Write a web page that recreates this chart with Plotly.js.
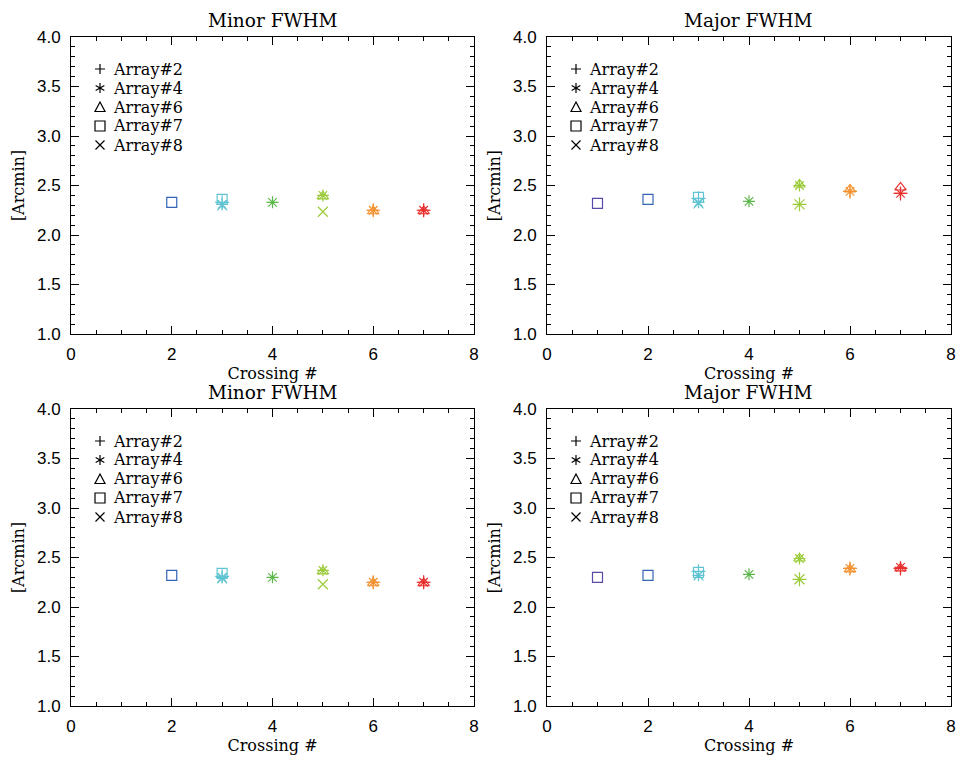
<!DOCTYPE html>
<html>
<head>
<meta charset="utf-8">
<script src="https://cdn.plot.ly/plotly-3.0.1.min.js"></script>
<style>html,body{margin:0;padding:0;background:#fff;}#chart{width:957px;height:760px;}</style>
</head>
<body>
<div id="chart"></div>
<script>
// ---- data ----
const crossings = [1, 2, 3, 4, 5, 6, 7];
const crossingColors = ['#5a4aa8', '#3464b4', '#62c4d2', '#5cb84a', '#9ccb3a', '#f39130', '#e8302e'];
const arrayNames = ['Array#2', 'Array#4', 'Array#6', 'Array#7', 'Array#8'];
const arraySymbols = ['cross-thin-open', 'asterisk-open', 'triangle-up-open', 'square-open', 'x-thin-open'];
const panelTitles = ['Minor FWHM', 'Major FWHM', 'Minor FWHM', 'Major FWHM'];
const xTitle = 'Crossing #';
const yTitle = '[Arcmin]';

// panel 1: top-left, Minor FWHM
const p1_array2 = [null, null, 2.33, null, null, 2.25, 2.25];
const p1_array4 = [null, null, 2.31, 2.33, 2.40, 2.25, 2.25];
const p1_array6 = [null, null, null, null, 2.39, 2.24, 2.24];
const p1_array7 = [null, 2.33, 2.36, null, null, null, null];
const p1_array8 = [null, null, 2.30, null, 2.235, null, null];
// panel 2: top-right, Major FWHM
const p2_array2 = [null, null, 2.37, null, 2.31, 2.44, 2.42];
const p2_array4 = [null, null, 2.33, 2.34, 2.50, 2.44, 2.42];
const p2_array6 = [null, null, null, null, 2.51, 2.46, 2.48];
const p2_array7 = [2.32, 2.36, 2.38, null, null, null, null];
const p2_array8 = [null, null, 2.32, null, 2.31, null, null];
// panel 3: bottom-left, Minor FWHM
const p3_array2 = [null, null, 2.31, null, null, 2.25, 2.25];
const p3_array4 = [null, null, 2.30, 2.30, 2.37, 2.25, 2.25];
const p3_array6 = [null, null, null, null, 2.36, 2.24, 2.24];
const p3_array7 = [null, 2.32, 2.34, null, null, null, null];
const p3_array8 = [null, null, 2.29, null, 2.23, null, null];
// panel 4: bottom-right, Major FWHM
const p4_array2 = [null, null, 2.36, null, 2.28, 2.39, 2.39];
const p4_array4 = [null, null, 2.32, 2.33, 2.49, 2.39, 2.40];
const p4_array6 = [null, null, null, null, 2.49, 2.38, 2.39];
const p4_array7 = [2.30, 2.32, 2.35, null, null, null, null];
const p4_array8 = [null, null, 2.32, null, 2.28, null, null];

const xTickVals = [0, 2, 4, 6, 8];
const yTickVals = [1.0, 1.5, 2.0, 2.5, 3.0, 3.5, 4.0];

const panels = [
  [p1_array2, p1_array4, p1_array6, p1_array7, p1_array8],
  [p2_array2, p2_array4, p2_array6, p2_array7, p2_array8],
  [p3_array2, p3_array4, p3_array6, p3_array7, p3_array8],
  [p4_array2, p4_array4, p4_array6, p4_array7, p4_array8]
];

// ---- layout geometry ----
const W = 957, H = 760;
const xDomains = [[71 / W, 474 / W], [547 / W, 951 / W]];
const yDomains = [[1 - 334 / H, 1 - 37 / H], [1 - 706 / H, 1 - 409 / H]];
const serif = 'DejaVu Serif, serif';
const sans = 'Liberation Sans, Arial, sans-serif';

// legend key glyphs as small vector paths (pixel -> paper)
function pt(px, py) { return (px / W).toFixed(5) + ',' + (1 - py / H).toFixed(5); }
function glyphPath(kind, cx, cy) {
  const s = 5;
  if (kind === 0) return 'M' + pt(cx - s, cy) + 'L' + pt(cx + s, cy) + 'M' + pt(cx, cy - s) + 'L' + pt(cx, cy + s);
  if (kind === 1) {
    const dx = s * Math.cos(Math.PI / 6), dy = s * Math.sin(Math.PI / 6);
    return 'M' + pt(cx, cy - s) + 'L' + pt(cx, cy + s) +
           'M' + pt(cx - dx, cy - dy) + 'L' + pt(cx + dx, cy + dy) +
           'M' + pt(cx - dx, cy + dy) + 'L' + pt(cx + dx, cy - dy);
  }
  if (kind === 2) return 'M' + pt(cx - s, cy + 4.5) + 'L' + pt(cx + s, cy + 4.5) + 'L' + pt(cx, cy - 5) + 'Z';
  if (kind === 3) return 'M' + pt(cx - 5, cy - 5) + 'L' + pt(cx + 5, cy - 5) + 'L' + pt(cx + 5, cy + 5) + 'L' + pt(cx - 5, cy + 5) + 'Z';
  const d = 4.5;
  return 'M' + pt(cx - d, cy - d) + 'L' + pt(cx + d, cy + d) + 'M' + pt(cx - d, cy + d) + 'L' + pt(cx + d, cy - d);
}

const traces = [];
const layout = {
  width: W, height: H,
  margin: {l: 0, r: 0, t: 0, b: 0},
  paper_bgcolor: '#fff', plot_bgcolor: '#fff',
  showlegend: false,
  annotations: [],
  shapes: []
};

panels.forEach((series, p) => {
  const col = p % 2, row = Math.floor(p / 2);
  const sfx = p === 0 ? '' : String(p + 1);
  const xa = 'x' + sfx, ya = 'y' + sfx;
  series.forEach((vals, a) => {
    traces.push({
      type: 'scatter', mode: 'markers', xaxis: xa, yaxis: ya,
      x: crossings, y: vals, name: arrayNames[a], showlegend: false,
      marker: {symbol: arraySymbols[a], size: 10, color: crossingColors,
               line: {width: 1.2, color: crossingColors}},
      hoverinfo: 'x+y+name'
    });
  });
  layout['xaxis' + sfx] = {
    domain: xDomains[col], anchor: ya, range: [0, 8],
    tickvals: xTickVals, ticks: 'inside', ticklen: 8, tickwidth: 1, tickcolor: '#000',
    minor: {dtick: 0.5, ticks: 'inside', ticklen: 4, tickcolor: '#000', showgrid: false},
    mirror: 'ticks', showline: true, linecolor: '#000', linewidth: 1,
    showgrid: false, zeroline: false, ticklabelstandoff: 5,
    tickfont: {family: sans, size: 17, color: '#000'},
    title: {text: xTitle, font: {family: serif, size: 16, color: '#000'}, standoff: 3}
  };
  layout['yaxis' + sfx] = {
    domain: yDomains[row], anchor: xa, range: [1, 4],
    tickvals: yTickVals, tickformat: '.1f', ticks: 'inside', ticklen: 8, tickwidth: 1, tickcolor: '#000',
    minor: {dtick: 0.1, ticks: 'inside', ticklen: 4, tickcolor: '#000', showgrid: false},
    mirror: 'ticks', showline: true, linecolor: '#000', linewidth: 1,
    showgrid: false, zeroline: false, ticklabelstandoff: 6,
    tickfont: {family: sans, size: 17, color: '#000'},
    title: {text: yTitle, font: {family: serif, size: 16, color: '#000'}, standoff: 8}
  };
  // legend: key glyph + name
  const x0 = xDomains[col][0] * W, yTop = (1 - yDomains[row][1]) * H;
  arrayNames.forEach((nm, a) => {
    const yc = yTop + 32 + a * 19;
    layout.shapes.push({
      type: 'path', xref: 'paper', yref: 'paper', path: glyphPath(a, x0 + 29, yc),
      line: {color: '#000', width: 1.2}, fillcolor: 'rgba(0,0,0,0)'
    });
    layout.annotations.push({
      xref: 'paper', yref: 'paper', x: (x0 + 40) / W, y: 1 - yc / H,
      xanchor: 'left', yanchor: 'middle', showarrow: false,
      text: nm, font: {family: serif, size: 16, color: '#000'}
    });
  });
  layout.annotations.push({
    xref: 'paper', yref: 'paper',
    x: (xDomains[col][0] + xDomains[col][1]) / 2,
    y: yDomains[row][1] + 4 / H, yanchor: 'bottom', xanchor: 'center',
    text: panelTitles[p], showarrow: false,
    font: {family: serif, size: 18.5, color: '#000'}
  });
});

Plotly.newPlot('chart', traces, layout, {displayModeBar: false, staticPlot: true});
</script>
</body>
</html>
